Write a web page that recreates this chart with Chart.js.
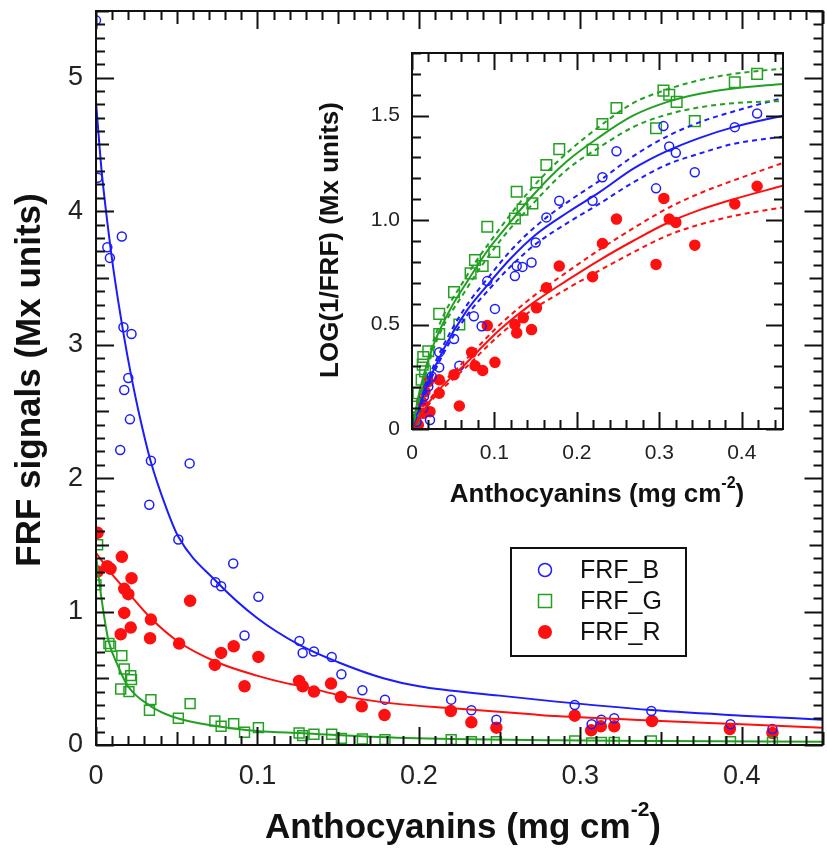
<!DOCTYPE html>
<html>
<head>
<meta charset="utf-8">
<script src="https://cdn.jsdelivr.net/npm/chart.js@4.4.0/dist/chart.umd.min.js"></script>
<style>
  html, body { margin: 0; padding: 0; background: #fff; overflow: hidden; }
  #wrap { position: relative; width: 827px; height: 849px; overflow: hidden; }
  #main { position: absolute; left: 0; top: 0; }
  #inset { position: absolute; left: 300px; top: 40px; }
</style>
</head>
<body>
<div id="wrap">
  <canvas id="main" width="831" height="849" style="width:831px;height:849px"></canvas>
  <canvas id="inset" width="500" height="480" style="width:500px;height:480px"></canvas>
</div>
<script>
"use strict";

// ---- main plot : FRF signals vs anthocyanins ----
var mainBlueX = [0, 0.001, 0.007, 0.0086, 0.016, 0.017, 0.022, 0.020, 0.0175, 0.021, 0.015, 0.034, 0.058, 0.033, 0.051, 0.085, 0.074, 0.0775, 0.1006, 0.092, 0.126, 0.128, 0.135, 0.146, 0.152, 0.165, 0.179, 0.220, 0.2325, 0.248, 0.2965, 0.307, 0.313, 0.321, 0.344, 0.393, 0.419];
var mainBlueY = [5.43, 4.25, 3.73, 3.65, 3.81, 3.13, 3.08, 2.75, 2.66, 2.44, 2.21, 2.13, 2.11, 1.80, 1.54, 1.36, 1.22, 1.19, 1.11, 0.82, 0.78, 0.69, 0.70, 0.66, 0.53, 0.41, 0.34, 0.34, 0.26, 0.19, 0.30, 0.155, 0.19, 0.20, 0.255, 0.155, 0.12];

var mainGreenX = [0.001, 0, 0.008, 0.009, 0.016, 0.0175, 0.0215, 0.022, 0.0153, 0.0204, 0.034, 0.0331, 0.0583, 0.051, 0.0736, 0.0775, 0.0853, 0.092, 0.1006, 0.1258, 0.128, 0.135, 0.146, 0.152, 0.165, 0.179, 0.22, 0.2325, 0.248, 0.2965, 0.307, 0.313, 0.321, 0.344, 0.393, 0.419];
var mainGreenY = [1.50, 1.20, 0.76, 0.74, 0.67, 0.57, 0.52, 0.49, 0.42, 0.40, 0.34, 0.26, 0.31, 0.20, 0.18, 0.14, 0.16, 0.095, 0.13, 0.09, 0.07, 0.08, 0.08, 0.05, 0.045, 0.04, 0.04, 0.025, 0.025, 0.03, 0.015, 0.02, 0.02, 0.03, 0.025, 0.02];

var mainRedX = [0.001, 0.001, 0.007, 0.009, 0.016, 0.022, 0.0175, 0.020, 0.0175, 0.0153, 0.0215, 0.034, 0.0335, 0.0515, 0.0583, 0.0736, 0.0775, 0.0853, 0.1006, 0.092, 0.1258, 0.128, 0.135, 0.1456, 0.1517, 0.1646, 0.1787, 0.2198, 0.2325, 0.248, 0.2965, 0.3067, 0.3127, 0.321, 0.3444, 0.3926, 0.419];
var mainRedY = [1.59, 1.30, 1.34, 1.32, 1.41, 1.25, 1.17, 1.13, 0.99, 0.83, 0.88, 0.94, 0.80, 0.76, 1.08, 0.60, 0.69, 0.74, 0.66, 0.44, 0.48, 0.44, 0.40, 0.46, 0.36, 0.29, 0.225, 0.255, 0.17, 0.13, 0.22, 0.11, 0.14, 0.14, 0.18, 0.12, 0.09];

// fitted curves
var mainBlueFitX = [0, 0.0035, 0.0076, 0.0106, 0.0137, 0.0168, 0.0194, 0.0219, 0.026, 0.034, 0.0434, 0.051, 0.075, 0.1, 0.126, 0.15, 0.178, 0.2, 0.25, 0.285, 0.344, 0.4, 0.45];
var mainBlueFitY = [4.82, 4.30, 3.86, 3.58, 3.33, 3.10, 2.92, 2.76, 2.52, 2.12, 1.78, 1.56, 1.22, 0.95, 0.75, 0.62, 0.50, 0.44, 0.37, 0.325, 0.262, 0.22, 0.19];
var mainRedFitX = [0, 0.0086, 0.02, 0.034, 0.0515, 0.075, 0.0996, 0.119, 0.128, 0.152, 0.185, 0.221, 0.272, 0.285, 0.35, 0.4, 0.45];
var mainRedFitY = [1.44, 1.30, 1.14, 0.95, 0.77, 0.62, 0.52, 0.46, 0.44, 0.37, 0.31, 0.275, 0.228, 0.217, 0.18, 0.155, 0.13];
var mainGreenFitX = [0, 0.0035, 0.0076, 0.0137, 0.0198, 0.034, 0.0505, 0.075, 0.0996, 0.128, 0.17, 0.22, 0.285, 0.35, 0.45];
var mainGreenFitY = [1.42, 1.09, 0.79, 0.59, 0.44, 0.29, 0.20, 0.14, 0.105, 0.088, 0.062, 0.045, 0.035, 0.03, 0.025];

// ---- inset : LOG(1/FRF) vs anthocyanins ----
var insBlueX = [0.4186, 0.3915, 0.305, 0.312, 0.32, 0.343, 0.296, 0.248, 0.231, 0.219, 0.1786, 0.163, 0.150, 0.145, 0.134, 0.1248, 0.127, 0.0913, 0.1006, 0.075, 0.0845, 0.051, 0.0574, 0.033, 0.033, 0.0239, 0.0198, 0.0145, 0.0218, 0.0137, 0.0057];
var insBlueY = [1.51, 1.445, 1.45, 1.352, 1.322, 1.229, 1.152, 1.33, 1.205, 1.093, 1.093, 1.013, 0.893, 0.797, 0.776, 0.732, 0.78, 0.708, 0.575, 0.54, 0.492, 0.431, 0.303, 0.367, 0.295, 0.251, 0.203, 0.155, 0.043, 0.10, 0.035];

var insGreenX = [0.4186, 0.3915, 0.343, 0.321, 0.312, 0.305, 0.296, 0.248, 0.231, 0.219, 0.1786, 0.163, 0.151, 0.127, 0.146, 0.134, 0.1248, 0.0913, 0.0998, 0.0857, 0.0764, 0.0711, 0.0574, 0.051, 0.033, 0.033, 0.0198, 0.0137, 0.013, 0.0158, 0.0117, 0.0077, 0.0036, 0.0016];
var insGreenY = [1.70, 1.66, 1.474, 1.566, 1.60, 1.62, 1.44, 1.537, 1.46, 1.336, 1.34, 1.264, 1.18, 1.136, 1.08, 1.05, 1.008, 0.968, 0.848, 0.78, 0.809, 0.745, 0.50, 0.655, 0.551, 0.455, 0.372, 0.345, 0.308, 0.276, 0.236, 0.171, 0.107, 0.043];

var insRedX = [0.4186, 0.3915, 0.3055, 0.312, 0.32, 0.343, 0.296, 0.248, 0.231, 0.219, 0.1786, 0.163, 0.151, 0.135, 0.1248, 0.127, 0.145, 0.0913, 0.1006, 0.0723, 0.0764, 0.0857, 0.051, 0.0574, 0.033, 0.033, 0.0198, 0.0158, 0.0218, 0, 0.0077, 0.0137, 0.0117];
var insRedY = [1.162, 1.077, 1.104, 1.005, 0.989, 0.88, 0.788, 1.005, 0.888, 0.729, 0.78, 0.676, 0.58, 0.532, 0.50, 0.46, 0.476, 0.495, 0.319, 0.367, 0.303, 0.28, 0.26, 0.11, 0.171, 0.236, 0.227, 0.179, 0.083, 0.03, 0.019, 0.075, 0.131];

var insGreenFitX = [0, 0.005, 0.0097, 0.0258, 0.046, 0.066, 0.0945, 0.1067, 0.147, 0.1875, 0.228, 0.268, 0.309, 0.349, 0.39, 0.45];
var insGreenFitY = [0, 0.10, 0.19, 0.40, 0.57, 0.70, 0.87, 0.93, 1.12, 1.28, 1.40, 1.50, 1.565, 1.605, 1.63, 1.652];
var insGreenBandX = [0, 0.0258, 0.066, 0.1067, 0.147, 0.1875, 0.228, 0.268, 0.309, 0.349, 0.39, 0.45];
var insGreenHiY = [0, 0.42, 0.73, 0.96, 1.16, 1.32, 1.45, 1.56, 1.625, 1.67, 1.70, 1.726];
var insGreenLoY = [0, 0.38, 0.67, 0.90, 1.08, 1.24, 1.35, 1.445, 1.505, 1.54, 1.56, 1.57];

var insBlueFitX = [0, 0.0178, 0.038, 0.066, 0.0905, 0.1188, 0.15, 0.19, 0.228, 0.268, 0.309, 0.35, 0.39, 0.45];
var insBlueFitY = [0, 0.203, 0.38, 0.564, 0.684, 0.8125, 0.93, 1.04, 1.135, 1.245, 1.33, 1.395, 1.445, 1.50];
var insBlueHiY = [0, 0.22, 0.40, 0.59, 0.715, 0.85, 0.97, 1.09, 1.19, 1.305, 1.40, 1.47, 1.52, 1.585];
var insBlueLoY = [0, 0.19, 0.36, 0.54, 0.655, 0.775, 0.885, 0.99, 1.08, 1.18, 1.265, 1.32, 1.365, 1.40];

var insRedFitX = [0, 0.0258, 0.066, 0.1067, 0.147, 0.1875, 0.228, 0.268, 0.309, 0.35, 0.39, 0.45];
var insRedFitY = [0, 0.155, 0.316, 0.476, 0.604, 0.71, 0.81, 0.90, 0.985, 1.05, 1.10, 1.165];
var insRedHiY = [0, 0.165, 0.335, 0.50, 0.635, 0.75, 0.86, 0.96, 1.055, 1.13, 1.19, 1.274];
var insRedLoY = [0, 0.145, 0.297, 0.452, 0.573, 0.67, 0.76, 0.845, 0.925, 0.98, 1.02, 1.061];

var legendLabels = ["FRF_B", "FRF_G", "FRF_R"];

var BLUE = "#1c1cff";
var GREEN = "#23a023";
var RED = "#ff1010";
var FONT = '"Liberation Sans", Arial, sans-serif';

Chart.defaults.font.family = FONT;
Chart.defaults.color = "#222";

function pts(xs, ys) {
  return xs.map(function (x, i) { return { x: x, y: ys[i] }; });
}

function fitLine(xs, ys, color, dashed) {
  return {
    data: pts(xs, ys),
    showLine: true,
    borderColor: color,
    borderWidth: 2,
    borderDash: dashed ? [5, 4] : [],
    pointRadius: 0,
    cubicInterpolationMode: "monotone",
    fill: false,
    order: 0
  };
}

function marks(xs, ys, color, style, r, filled) {
  return {
    data: pts(xs, ys),
    showLine: false,
    pointStyle: style,
    pointRadius: r,
    pointBorderWidth: 1.5,
    pointBorderColor: color,
    pointBackgroundColor: filled ? color : "rgba(0,0,0,0)",
    order: 1
  };
}

// no extra room for half labels: chart area is set by layout padding only
function fixSize(w, h) {
  return function (s) {
    if (w) s.width = w;
    if (h) s.height = h;
    s.paddingTop = 0; s.paddingBottom = 0;
    s.paddingLeft = 0; s.paddingRight = 0;
  };
}

// box + inward ticks on four sides
function drawFrame(chart, xs, ys) {
  var ctx = chart.ctx, a = chart.chartArea;
  var sx = chart.scales.x, sy = chart.scales.y;
  ctx.save();
  ctx.strokeStyle = "#111";
  ctx.lineWidth = 2;
  ctx.strokeRect(a.left, a.top, a.right - a.left, a.bottom - a.top);
  ctx.beginPath();
  for (var i = 0; i <= xs.count; i++) {
    var len = i % xs.major == 0 ? xs.long : (xs.mid && i % xs.mid == 0 ? 13 : xs.short);
    var px = Math.round(sx.getPixelForValue(i * xs.step)) + 0.5;
    ctx.moveTo(px, a.bottom); ctx.lineTo(px, a.bottom - len);
    ctx.moveTo(px, a.top); ctx.lineTo(px, a.top + len);
  }
  for (var j = 0; j <= ys.count; j++) {
    var l2 = j % ys.major == 0 ? ys.long : (ys.mid && j % ys.mid == 0 ? 13 : ys.short);
    var py = Math.round(sy.getPixelForValue(j * ys.step)) + 0.5;
    ctx.moveTo(a.left, py); ctx.lineTo(a.left + l2, py);
    ctx.moveTo(a.right, py); ctx.lineTo(a.right - l2, py);
  }
  ctx.stroke();
  ctx.restore();
}

function titleWithSup(ctx, head, sup, tail, cx, baseY, size, supSize, raise) {
  var big = "bold " + size + "px " + FONT;
  var small = "bold " + supSize + "px " + FONT;
  ctx.font = big;
  var w1 = ctx.measureText(head).width, w3 = ctx.measureText(tail).width;
  ctx.font = small;
  var w2 = ctx.measureText(sup).width;
  var x = cx - (w1 + w2 + w3) / 2;
  ctx.textAlign = "left";
  ctx.textBaseline = "alphabetic";
  ctx.fillStyle = "#111";
  ctx.font = big; ctx.fillText(head, x, baseY);
  ctx.font = small; ctx.fillText(sup, x + w1, baseY - raise);
  ctx.font = big; ctx.fillText(tail, x + w1 + w2, baseY);
}

function rotatedTitle(ctx, text, cx, cy, size) {
  ctx.save();
  ctx.translate(cx, cy);
  ctx.rotate(-Math.PI / 2);
  ctx.font = "bold " + size + "px " + FONT;
  ctx.textAlign = "center";
  ctx.textBaseline = "middle";
  ctx.fillStyle = "#111";
  ctx.fillText(text, 0, 0);
  ctx.restore();
}

function tickText(v) {
  if (Math.abs(v) < 1e-9) return "0";
  return v.toFixed(1);
}

//******************************** main chart ********************************
var mainDecor = {
  id: "mainDecor",
  afterDraw: function (chart) {
    var ctx = chart.ctx;
    drawFrame(chart,
      { step: 0.01, count: 45, major: 10, mid: 5, long: 18, short: 9 },
      { step: 0.1, count: 55, major: 10, mid: 5, long: 18, short: 9 });
    rotatedTitle(ctx, "FRF signals (Mx units)", 30, 380, 35);
    titleWithSup(ctx, "Anthocyanins (mg cm", "-2", ")", 463, 838, 35, 21, 22);

    // legend box
    ctx.save();
    ctx.strokeStyle = "#111";
    ctx.lineWidth = 2;
    ctx.strokeRect(511, 548, 175, 108);
    var rows = [570, 601, 632];
    ctx.lineWidth = 1.5;
    ctx.strokeStyle = BLUE;
    ctx.beginPath(); ctx.arc(545, rows[0], 6.5, 0, Math.PI * 2); ctx.stroke();
    ctx.strokeStyle = GREEN;
    ctx.strokeRect(538.5, rows[1] - 6.5, 13, 13);
    ctx.fillStyle = RED;
    ctx.beginPath(); ctx.arc(545, rows[2], 7, 0, Math.PI * 2); ctx.fill();
    ctx.fillStyle = "#111";
    ctx.font = "25px " + FONT;
    ctx.textAlign = "left";
    ctx.textBaseline = "middle";
    legendLabels.forEach(function (lab, i) { ctx.fillText(lab, 580, rows[i] + 1); });
    ctx.restore();
  }
};

new Chart(document.getElementById("main"), {
  type: "scatter",
  data: {
    datasets: [
      fitLine(mainBlueFitX, mainBlueFitY, BLUE),
      fitLine(mainRedFitX, mainRedFitY, RED),
      fitLine(mainGreenFitX, mainGreenFitY, GREEN),
      marks(mainBlueX, mainBlueY, BLUE, "circle", 4.5, false),
      marks(mainGreenX, mainGreenY, GREEN, "rect", 7, false),
      marks(mainRedX, mainRedY, RED, "circle", 5.5, true)
    ]
  },
  options: {
    responsive: false,
    animation: false,
    layout: { padding: { top: 11, right: 1, left: 0, bottom: 0 } },
    plugins: { legend: { display: false }, tooltip: { enabled: false } },
    scales: {
      x: {
        type: "linear", min: 0, max: 0.45,
        afterFit: fixSize(0, 104),
        grid: { display: false, drawTicks: false },
        border: { display: false },
        ticks: {
          stepSize: 0.1, includeBounds: false, padding: 15, autoSkip: false, maxRotation: 0,
          font: { size: 27 }, color: "#222",
          callback: function (v) { return tickText(v); }
        }
      },
      y: {
        type: "linear", min: 0, max: 5.5,
        afterFit: fixSize(96, 0),
        grid: { display: false, drawTicks: false },
        border: { display: false },
        ticks: {
          stepSize: 1, includeBounds: false, padding: 13, autoSkip: false,
          font: { size: 27 }, color: "#222",
          callback: function (v) { return String(Math.round(v)); }
        }
      }
    }
  },
  plugins: [mainDecor]
});

//******************************** inset chart ********************************
var insetDecor = {
  id: "insetDecor",
  afterDraw: function (chart) {
    var ctx = chart.ctx;
    drawFrame(chart,
      { step: 0.02, count: 22, major: 5, mid: 0, long: 17, short: 9 },
      { step: 0.1, count: 18, major: 5, mid: 0, long: 17, short: 9 });
    rotatedTitle(ctx, "LOG(1/FRF) (Mx units)", 31, 200, 26);
    titleWithSup(ctx, "Anthocyanins (mg cm", "-2", ")", 297, 462, 26, 16, 14);
  }
};

new Chart(document.getElementById("inset"), {
  type: "scatter",
  data: {
    datasets: [
      fitLine(insGreenFitX, insGreenFitY, GREEN),
      fitLine(insGreenBandX, insGreenHiY, GREEN, true),
      fitLine(insGreenBandX, insGreenLoY, GREEN, true),
      fitLine(insBlueFitX, insBlueFitY, BLUE),
      fitLine(insBlueFitX, insBlueHiY, BLUE, true),
      fitLine(insBlueFitX, insBlueLoY, BLUE, true),
      fitLine(insRedFitX, insRedFitY, RED),
      fitLine(insRedFitX, insRedHiY, RED, true),
      fitLine(insRedFitX, insRedLoY, RED, true),
      marks(insBlueX, insBlueY, BLUE, "circle", 4.5, false),
      marks(insGreenX, insGreenY, GREEN, "rect", 7.5, false),
      marks(insRedX, insRedY, RED, "circle", 5, true)
    ]
  },
  options: {
    responsive: false,
    animation: false,
    layout: { padding: { top: 13, right: 17, left: 0, bottom: 0 } },
    plugins: { legend: { display: false }, tooltip: { enabled: false } },
    scales: {
      x: {
        type: "linear", min: 0, max: 0.45,
        afterFit: fixSize(0, 91),
        grid: { display: false, drawTicks: false },
        border: { display: false },
        ticks: {
          stepSize: 0.1, includeBounds: false, padding: 12, autoSkip: false, maxRotation: 0,
          font: { size: 21 }, color: "#222",
          callback: function (v) { return tickText(v); }
        }
      },
      y: {
        type: "linear", min: 0, max: 1.8,
        afterFit: fixSize(112, 0),
        grid: { display: false, drawTicks: false },
        border: { display: false },
        ticks: {
          stepSize: 0.5, includeBounds: false, padding: 12, autoSkip: false,
          font: { size: 21 }, color: "#222",
          callback: function (v) { return tickText(v); }
        }
      }
    }
  },
  plugins: [insetDecor]
});
</script>
</body>
</html>
